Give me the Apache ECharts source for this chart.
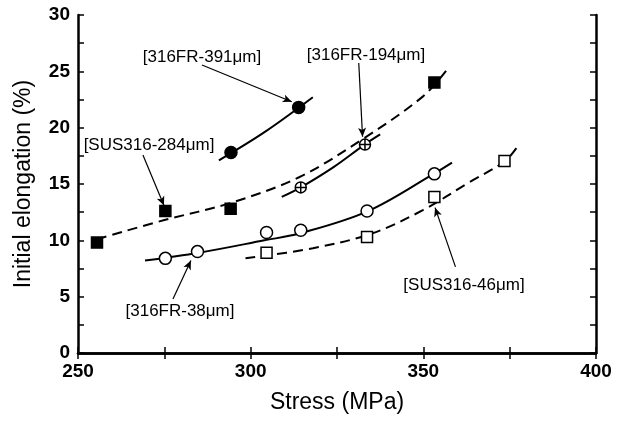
<!DOCTYPE html>
<html>
<head>
<meta charset="utf-8">
<script src="https://cdn.jsdelivr.net/npm/echarts@6.0.0/dist/echarts.min.js"></script>
<style>
  html, body { margin: 0; padding: 0; background: #fff; }
  #chart { width: 623px; height: 421px; }
</style>
</head>
<body>
<div id="chart"></div>
<script>
// measured points [stress MPa, initial elongation %]
const fr391Pts = [[294.3, 17.8], [313.9, 21.8]]
const sus284Pts = [[255.5, 9.8], [275.3, 12.6], [294.2, 12.8], [353.2, 24.0]]
const fr194Pts = [[314.5, 14.7], [333.1, 18.5]]
const fr38Pts = [[275.3, 8.4], [284.6, 9.0], [304.6, 10.7], [314.5, 10.9], [333.7, 12.6], [353.2, 15.9]]
const sus46Pts = [[304.6, 8.9], [333.7, 10.3], [353.2, 13.85], [373.5, 17.05]]

// fitted curves
const fr391Fit = [[290.8, 17.1], [304, 19.6], [318, 22.7]]
const sus284Fit = [[255.5, 10.1], [275, 11.8], [294, 13.3], [314, 15.6], [333, 19.1], [350, 22.8], [357, 25.2]]
const fr194Fit = [[309, 13.85], [314.5, 14.7], [324, 16.5], [333, 18.5], [337.5, 19.4]]
const fr38Fit = [[269.4, 8.2], [285, 8.9], [304, 10.0], [314, 10.6], [334, 12.6], [353, 15.9], [358.3, 16.9]]
const sus46Fit = [[298.5, 8.4], [318, 9.3], [335, 10.6], [350, 12.7], [363, 15.1], [373.5, 17.0], [377, 18.2]]

// annotation arrows [from, to]
const arrows = [
  [[285.9, 25.56], [311.9, 22.3]],
  [[331.3, 25.74], [332.4, 19.2]],
  [[268.8, 17.58], [274.9, 13.1]],
  [[277.5, 4.8], [282.7, 8.2]],
  [[359.3, 7.64], [353.4, 12.9]]
]
const labels = ['[316FR-391μm]', '[316FR-194μm]', '[SUS316-284μm]', '[316FR-38μm]', '[SUS316-46μm]']

const xTicks = [250, 300, 350, 400]
const yTicks = [0, 5, 10, 15, 20, 25, 30]

const font = 'Liberation Sans, Arial, Helvetica, sans-serif'
const crossCircle = 'path://M10,0A10,10,0,1,1,-10,0A10,10,0,1,1,10,0ZM-10,0L10,0M0,-10L0,10'

function fitLine(data, dashed) {
  return {
    type: 'line', data: data, smooth: 0.35, showSymbol: false, silent: true, z: 2,
    lineStyle: { color: '#000', width: 2, type: dashed ? [10, 6] : 'solid' }
  }
}
function points(data, symbol, size, filled) {
  return {
    type: 'scatter', data: data, symbol: symbol, symbolSize: size, z: 5,
    itemStyle: { color: filled ? '#000' : '#fff', borderColor: '#000', borderWidth: 1.5, opacity: 1 }
  }
}

const chart = echarts.init(document.getElementById('chart'))
const axisCommon = {
  min: 250, max: 400, interval: 25
}
const option = {
  animation: false,
  backgroundColor: '#fff',
  grid: { left: 78, right: 27, top: 15, bottom: 68 },
  xAxis: [
    {
      type: 'value', ...axisCommon, position: 'bottom',
      name: 'Stress (MPa)', nameLocation: 'middle', nameGap: 38,
      nameTextStyle: { fontFamily: font, fontSize: 23, color: '#000' },
      axisLine: { lineStyle: { color: '#000', width: 2.5 } },
      axisTick: { inside: true, length: 6, lineStyle: { color: '#000', width: 1.5 } },
      axisLabel: {
        fontFamily: font, fontSize: 19, fontWeight: 'bold', color: '#000', margin: 9,
        formatter: v => xTicks.includes(v) ? String(v) : ''
      },
      splitLine: { show: false }
    },
    {
      type: 'value', ...axisCommon, position: 'top',
      axisLine: { lineStyle: { color: '#000', width: 2.5 } },
      axisTick: { inside: true, length: 6, lineStyle: { color: '#000', width: 1.5 } },
      axisLabel: { show: false },
      splitLine: { show: false }
    }
  ],
  yAxis: [
    {
      type: 'value', min: 0, max: 30, interval: 2.5, position: 'left',
      name: 'Initial elongation (%)', nameLocation: 'middle', nameGap: 43,
      nameTextStyle: { fontFamily: font, fontSize: 23, color: '#000' },
      axisLine: { lineStyle: { color: '#000', width: 2.5 } },
      axisTick: { inside: true, length: 6, lineStyle: { color: '#000', width: 1.5 } },
      axisLabel: {
        fontFamily: font, fontSize: 19, fontWeight: 'bold', color: '#000', margin: 8,
        formatter: v => yTicks.includes(v) ? String(v) : ''
      },
      splitLine: { show: false }
    },
    {
      type: 'value', min: 0, max: 30, interval: 2.5, position: 'right',
      axisLine: { lineStyle: { color: '#000', width: 2.5 } },
      axisTick: { inside: true, length: 6, lineStyle: { color: '#000', width: 1.5 } },
      axisLabel: { show: false },
      splitLine: { show: false }
    }
  ],
  series: [
    fitLine(fr391Fit, false),
    fitLine(sus284Fit, true),
    fitLine(fr194Fit, false),
    fitLine(fr38Fit, false),
    fitLine(sus46Fit, true),
    points(fr391Pts, 'circle', 12, true),
    points(sus284Pts, 'rect', 11, true),
    points(fr194Pts, crossCircle, 11, false),
    points(fr38Pts, 'circle', 12, false),
    points(sus46Pts, 'rect', 11, false),
    {
      type: 'line', data: [], silent: true,
      markLine: {
        silent: true, animation: false,
        symbol: ['none', 'arrow'], symbolSize: [6, 9],
        label: { show: false },
        lineStyle: { color: '#000', width: 1.2, type: 'solid' },
        emphasis: { disabled: true },
        data: arrows.map(a => [{ coord: a[0] }, { coord: a[1] }])
      }
    }
  ],
  graphic: [
    [202, 57], [366, 55], [149, 145], [180, 311], [464, 285]
  ].map((p, i) => ({
    type: 'text', x: p[0], y: p[1], z: 10,
    style: {
      text: labels[i], fontFamily: font, fontSize: 17, fill: '#000',
      align: 'center', verticalAlign: 'middle'
    }
  }))
}
chart.setOption(option)
</script>
</body>
</html>
